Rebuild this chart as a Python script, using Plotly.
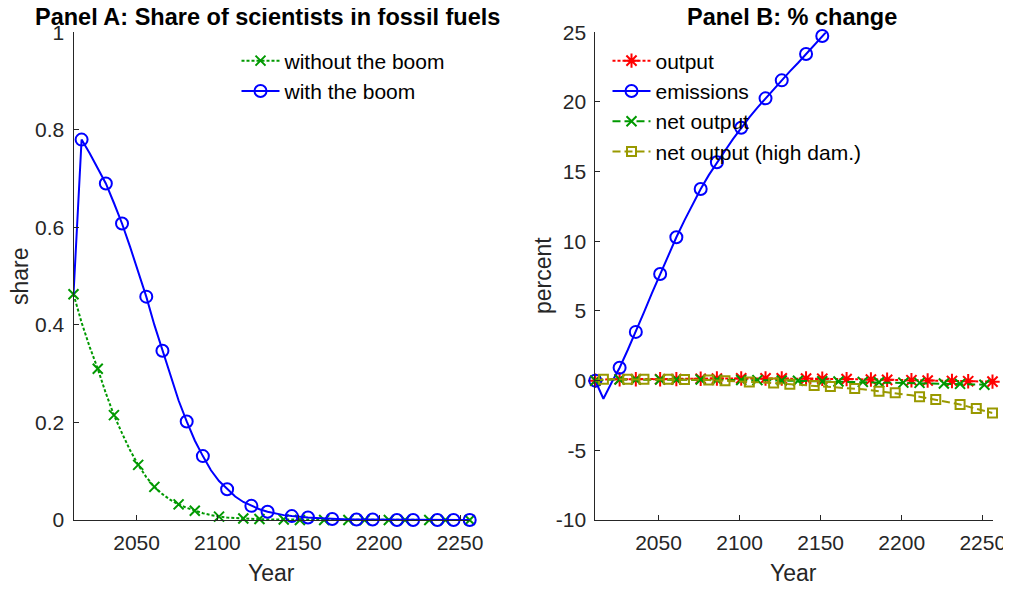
import plotly.graph_objects as go

# ---------------- data ----------------
years = [2011, 2016, 2021, 2026, 2031, 2036, 2041, 2046, 2051, 2056,
         2061, 2066, 2071, 2076, 2081, 2086, 2091, 2096, 2101, 2106,
         2111, 2116, 2121, 2126, 2131, 2136, 2141, 2146, 2151, 2156,
         2161, 2166, 2171, 2176, 2181, 2186, 2191, 2196, 2201, 2206,
         2211, 2216, 2221, 2226, 2231, 2236, 2241, 2246, 2251, 2256]

# Panel A: share of scientists in fossil fuels
share_without_boom = [0.463, 0.405, 0.355, 0.310, 0.260, 0.215, 0.178, 0.143, 0.113, 0.088,
                      0.068, 0.053, 0.041, 0.032, 0.025, 0.019, 0.014, 0.010, 0.007, 0.005,
                      0.004, 0.003, 0.002, 0.002, 0.001, 0.001, 0.001, 0.001, 0.000, 0.000,
                      0.000, 0.000, 0.000, 0.000, 0.000, 0.000, 0.000, 0.000, 0.000, 0.000,
                      0.000, 0.000, 0.000, 0.000, 0.000, 0.000, 0.000, 0.000, 0.000, 0.000]
share_with_boom = [0.463, 0.780, 0.752, 0.720, 0.690, 0.650, 0.608, 0.560, 0.510, 0.458,
                   0.400, 0.347, 0.295, 0.245, 0.202, 0.163, 0.131, 0.102, 0.080, 0.063,
                   0.048, 0.037, 0.029, 0.022, 0.017, 0.013, 0.010, 0.008, 0.006, 0.005,
                   0.004, 0.003, 0.002, 0.002, 0.001, 0.001, 0.001, 0.001, 0.000, 0.000,
                   0.000, 0.000, 0.000, 0.000, 0.000, 0.000, 0.000, 0.000, 0.000, 0.000]

# Panel B: % change
pct_output = [0.00, 0.08, 0.10, 0.10, 0.10, 0.10, 0.10, 0.10, 0.10, 0.10,
              0.11, 0.12, 0.13, 0.14, 0.15, 0.15, 0.16, 0.16, 0.16, 0.16,
              0.16, 0.16, 0.16, 0.16, 0.15, 0.15, 0.15, 0.14, 0.14, 0.13,
              0.12, 0.11, 0.10, 0.09, 0.08, 0.07, 0.06, 0.05, 0.04, 0.03,
              0.02, 0.01, 0.00, -0.01, -0.02, -0.03, -0.04, -0.05, -0.06, -0.07]
pct_emissions = [0.00, -1.30, -0.15, 0.93, 2.20, 3.50, 4.90, 6.30, 7.65, 9.00,
                 10.29, 11.50, 12.65, 13.75, 14.75, 15.67, 16.50, 17.35, 18.15, 18.90,
                 19.60, 20.26, 20.90, 21.55, 22.20, 22.80, 23.44, 24.10, 24.73, 25.35]
pct_net_output = [0.00, 0.06, 0.08, 0.08, 0.08, 0.08, 0.08, 0.08, 0.08, 0.08,
                  0.08, 0.08, 0.08, 0.08, 0.07, 0.07, 0.06, 0.06, 0.05, 0.05,
                  0.04, 0.03, 0.02, 0.01, 0.00, -0.01, -0.02, -0.03, -0.04, -0.05,
                  -0.06, -0.07, -0.08, -0.09, -0.10, -0.11, -0.12, -0.13, -0.14, -0.15,
                  -0.16, -0.17, -0.18, -0.20, -0.21, -0.23, -0.25, -0.27, -0.29]
pct_net_output_high = [0.00, 0.10, 0.10, 0.10, 0.10, 0.10, 0.10, 0.10, 0.10, 0.10,
                       0.09, 0.08, 0.07, 0.06, 0.04, 0.02, 0.00, -0.03, -0.06, -0.10,
                       -0.12, -0.14, -0.17, -0.21, -0.25, -0.28, -0.32, -0.35, -0.38, -0.42,
                       -0.46, -0.51, -0.56, -0.62, -0.69, -0.76, -0.81, -0.87, -0.96, -1.05,
                       -1.15, -1.25, -1.35, -1.47, -1.59, -1.71, -1.85, -2.00, -2.15, -2.32]

# indices of the points that carry a marker
marks_p1 = [0, 3, 5, 8, 10, 13, 15, 18, 21, 23, 26, 28, 31, 34, 36, 39, 41, 44, 46, 49]
marks_p2 = [1, 4, 6, 9, 11, 14, 16, 19, 22, 24, 27, 29, 32, 35, 37, 40, 42, 45, 47, 49]
marks_p3 = [0, 3, 5, 8, 10, 13, 15, 18, 20, 23, 25, 28, 30, 33, 35, 38, 40, 43, 45, 48]

x_ticks = [2050, 2100, 2150, 2200, 2250]
x_ticktext = ["2050", "2100", "2150", "2200", "2250"]
ya_ticks = [0, 0.2, 0.4, 0.6, 0.8, 1]
ya_ticktext = ["0", "0.2", "0.4", "0.6", "0.8", "1"]
yb_ticks = [-10, -5, 0, 5, 10, 15, 20, 25]
yb_ticktext = ["-10", "-5", "0", "5", "10", "15", "20", "25"]

title_a = "Panel A: Share of scientists in fossil fuels"
title_b = "Panel B: % change"

# ---------------- style ----------------
OFF = 8  # the page body has an 8px margin on every side
W, H = 1011 - 2 * OFF, 590 - 2 * OFF
FONT = "Liberation Sans, Arial, Helvetica, sans-serif"
AXC = "#262626"
GREEN = "#009900"
BLUE = "#0000ff"
RED = "#ff0000"
OLIVE = "#999900"
DOTTED = "3px,2px"
DASHED = "8px,4px"


def px_x(p):
    return (p - OFF) / W


def px_y(p):
    return 1 - (p - OFF) / H


fig = go.Figure()


def add_series(x, y, idx, color, dash, symbol, msize, name, xa, ya, legend):
    fig.add_trace(go.Scatter(
        x=x[:len(y)], y=y, mode="lines",
        line=dict(color=color, width=2, dash=dash),
        xaxis=xa, yaxis=ya, showlegend=False, hoverinfo="skip"))
    sel = [i for i in idx if i < len(y)]
    fig.add_trace(go.Scatter(
        x=[x[i] for i in sel], y=[y[i] for i in sel], mode="markers",
        marker=dict(symbol=symbol, size=msize, color=color,
                    line=dict(color=color, width=2)),
        xaxis=xa, yaxis=ya, showlegend=False, cliponaxis=False, hoverinfo="skip"))
    fig.add_trace(go.Scatter(
        x=[None], y=[None], mode="lines+markers", name=name,
        line=dict(color=color, width=2, dash=dash),
        marker=dict(symbol=symbol, size=msize, color=color,
                    line=dict(color=color, width=2)),
        xaxis=xa, yaxis=ya, legend=legend))


# Panel A
add_series(years, share_without_boom, marks_p1, GREEN, DOTTED, "x-thin-open", 10,
           "without the boom", "x", "y", "legend")
add_series(years, share_with_boom, marks_p2, BLUE, "solid", "circle-open", 12,
           "with the boom", "x", "y", "legend")

# Panel B
add_series(years, pct_output, marks_p1, RED, DOTTED, "asterisk-open", 12,
           "output", "x2", "y2", "legend2")
add_series(years, pct_emissions, marks_p1, BLUE, "solid", "circle-open", 12,
           "emissions", "x2", "y2", "legend2")
add_series(years, pct_net_output, marks_p3, GREEN, DASHED, "x-thin-open", 10,
           "net output", "x2", "y2", "legend2")
add_series(years, pct_net_output_high, marks_p2, OLIVE, DASHED, "square-open", 9,
           "net output (high dam.)", "x2", "y2", "legend2")

axis_common = dict(
    showline=True, linecolor=AXC, linewidth=1, mirror=False,
    showgrid=False, zeroline=False,
    ticks="inside", ticklen=5, tickwidth=1, tickcolor=AXC,
    tickfont=dict(family=FONT, size=21, color=AXC),
    automargin=False,
)

y_dom = [px_y(520), px_y(32.3)]

fig.update_layout(
    width=W, height=H,
    margin=dict(l=0, r=0, t=0, b=0, pad=0, autoexpand=False),
    paper_bgcolor="white", plot_bgcolor="white",
    font=dict(family=FONT, color=AXC),
    xaxis=dict(domain=[px_x(73.5), px_x(469.7)], range=[2011, 2256],
               tickvals=x_ticks, ticktext=x_ticktext, anchor="y",
               ticklabelstandoff=4, ticklabeloverflow="allow", **axis_common),
    yaxis=dict(domain=y_dom, range=[0, 1], tickvals=ya_ticks, ticktext=ya_ticktext,
               anchor="x", ticklabelstandoff=4, ticklabeloverflow="allow", **axis_common),
    xaxis2=dict(domain=[px_x(595.3), px_x(992.5)], range=[2011, 2256],
                tickvals=x_ticks, ticktext=x_ticktext, anchor="y2",
                ticklabelstandoff=4, ticklabeloverflow="allow", **axis_common),
    yaxis2=dict(domain=y_dom, range=[-10, 25], tickvals=yb_ticks, ticktext=yb_ticktext,
                anchor="x2", ticklabelstandoff=4, ticklabeloverflow="allow", **axis_common),
    legend=dict(x=px_x(236.5), y=px_y(40.5), xanchor="left", yanchor="top",
                bgcolor="rgba(0,0,0,0)", borderwidth=0,
                font=dict(family=FONT, size=21, color="black"),
                itemwidth=38, tracegroupgap=0),
    legend2=dict(x=px_x(607.5), y=px_y(40.5), xanchor="left", yanchor="top",
                 bgcolor="rgba(0,0,0,0)", borderwidth=0,
                 font=dict(family=FONT, size=21, color="black"),
                 itemwidth=38, tracegroupgap=0),
    showlegend=True,
)

annots = [
    dict(text="<b>" + title_a + "</b>", x=px_x(267), y=px_y(17), font=dict(size=23.5, color="black")),
    dict(text="<b>" + title_b + "</b>", x=px_x(791.5), y=px_y(17), font=dict(size=23.5, color="black")),
    dict(text="Year", x=px_x(271.6), y=px_y(573), font=dict(size=23, color=AXC)),
    dict(text="Year", x=px_x(793.9), y=px_y(573), font=dict(size=23, color=AXC)),
    dict(text="share", x=px_x(20), y=px_y(276), textangle=-90, font=dict(size=23, color=AXC)),
    dict(text="percent", x=px_x(543), y=px_y(276), textangle=-90, font=dict(size=23, color=AXC)),
]
for a in annots:
    a.update(xref="paper", yref="paper", showarrow=False, xanchor="center", yanchor="middle")
    a["font"]["family"] = FONT
fig.update_layout(annotations=annots)

fig.write_html("out.html")
